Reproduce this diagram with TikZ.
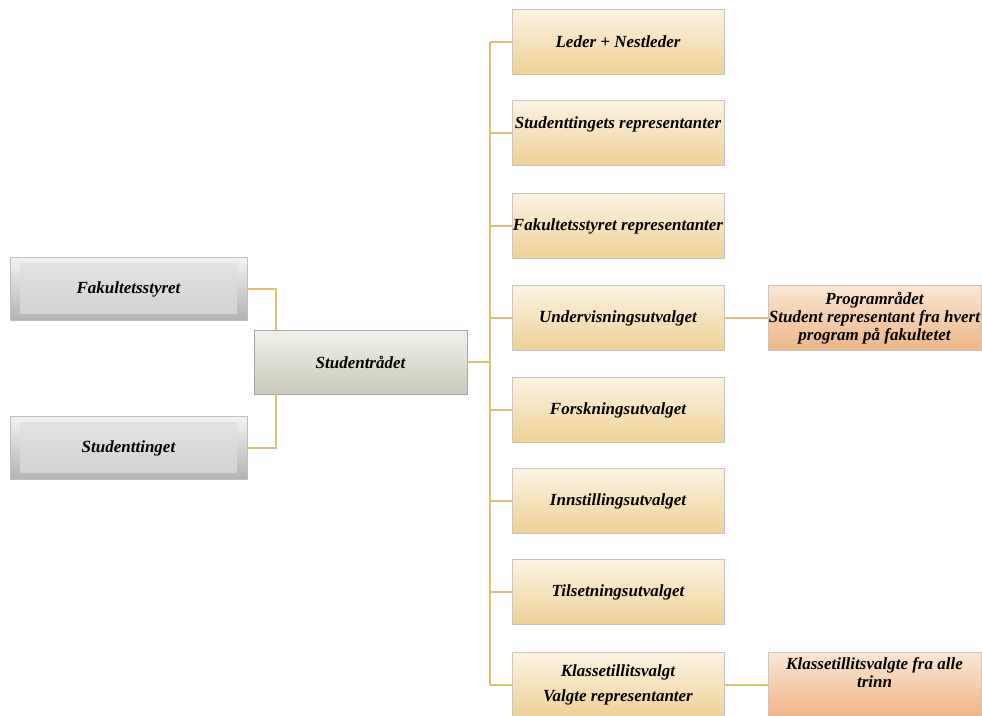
\documentclass[tikz,border=0pt]{standalone}
\usepackage{fontspec}
\setmainfont{Liberation Serif}
\usetikzlibrary{positioning}
\definecolor{linkc}{HTML}{E2BE74}
\definecolor{goldtop}{HTML}{FCF3E2}
\definecolor{goldbot}{HTML}{EFD196}
\definecolor{orgtop}{HTML}{FBE6D4}
\definecolor{orgbot}{HTML}{EEB585}
\definecolor{radtop}{HTML}{F2F2EC}
\definecolor{radbot}{HTML}{C9CABA}

\begin{document}
\begin{tikzpicture}[x=1pt, y=-1pt, font=\fontsize{17}{18}\selectfont\bfseries\itshape,
  sidebox/.style={draw=gray!50, top color=gray!10, bottom color=gray!60, minimum width=237pt,
    minimum height=63pt, inner sep=0pt,
    path picture={\fill[top color=gray!22, bottom color=gray!36]
      ([xshift=10pt,yshift=-6pt]path picture bounding box.north west) rectangle
      ([xshift=-10pt,yshift=7pt]path picture bounding box.south east);}},
  radbox/.style={draw=gray!70, top color=radtop, bottom color=radbot, minimum width=213pt,
    minimum height=64pt, inner sep=0pt},
  unitbox/.style={draw=gray!45, top color=goldtop, bottom color=goldbot, minimum width=212pt,
    minimum height=65pt, inner sep=0pt, align=center},
  subbox/.style={draw=gray!45, top color=orgtop, bottom color=orgbot, minimum width=213pt,
    minimum height=65pt, inner sep=0pt, align=center},
  link/.style={draw=linkc, line width=1.8pt}
]
  \useasboundingbox (0,0) rectangle (982,715);
  \clip (0,0) rectangle (982,715);
  \fill[white] (0,0) rectangle (982,715);
  \node[sidebox] (fak) at (128.5,289) {Fakultetsstyret};
  \node[sidebox] (sti) at (128.5,448) {Studenttinget};
  \node[radbox]  (rad) at (360.5,362) {Studentrådet};
  \coordinate (lj) at (276,362);
  \coordinate (sp) at (490,362);
  \node[unitbox] (led) at (618,42)  {Leder + Nestleder};
  \node[unitbox, text depth=20pt] (str) at (618,133) {Studenttingets representanter};
  \node[unitbox] (fsr) at (618,226) {Fakultetsstyret representanter};
  \node[unitbox] (und) at (618,318) {Undervisningsutvalget};
  \node[unitbox] (for) at (618,410) {Forskningsutvalget};
  \node[unitbox] (inn) at (618,501) {Innstillingsutvalget};
  \node[unitbox] (til) at (618,592) {Tilsetningsutvalget};
  \node[unitbox] (kla) at (618,685) {Klassetillitsvalgt\\[7pt]Valgte representanter};
  \node[subbox]  (prg) at (874.5,318) {Programrådet\\Student representant fra hvert\\program på fakultetet};
  \node[subbox, text depth=25pt] (alle) at (874.5,685) {Klassetillitsvalgte fra alle\\trinn};
  \draw[link] (fak.east) -| (lj |- rad.north);
  \draw[link] (sti.east) -| (lj |- rad.south);
  \draw[link] (rad.east) -- (sp);
  \draw[link] (sp |- led.west) -- (sp |- kla.west);
  \foreach \u in {led,str,fsr,und,for,inn,til,kla}
    \draw[link] (sp |- \u.west) -- (\u.west);
  \draw[link] (und.east) -- (prg.west |- und.east);
  \draw[link] (kla.east) -- (alle.west |- kla.east);
\end{tikzpicture}
\end{document}
